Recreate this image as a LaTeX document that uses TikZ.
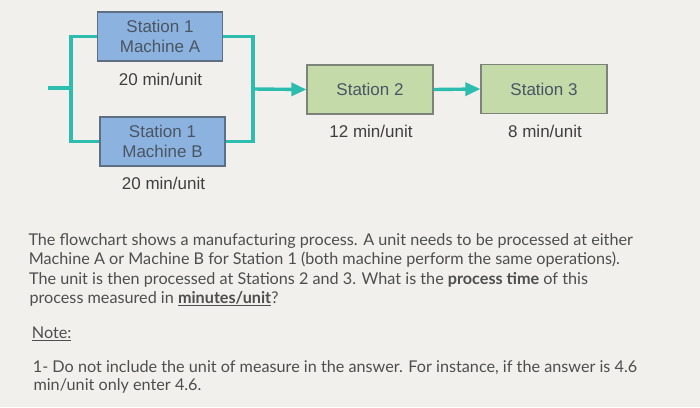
\documentclass[tikz,border=0pt]{standalone}
\usepackage{fontspec}
\setmainfont{Liberation Sans}
\newfontfamily\lato{Lato}
\usetikzlibrary{arrows.meta}
\definecolor{bgc}{HTML}{F2F0EC}
\definecolor{bluefill}{HTML}{8CB3DF}
\definecolor{blueedge}{HTML}{5E6F82}
\definecolor{greenfill}{HTML}{C5DAA9}
\definecolor{greenedge}{HTML}{7D827A}
\definecolor{teal}{HTML}{2DBDAE}
\definecolor{boxtext}{HTML}{4A5563}
\definecolor{labtext}{HTML}{3F3F3F}
\definecolor{paratext}{HTML}{4E4E4E}
\tikzset{
  machinebox/.style={draw=blueedge, fill=bluefill, line width=1.2pt, minimum width=125pt, minimum height=49pt, inner sep=0pt, align=center, text=boxtext, font=\fontsize{17}{19.5}\selectfont},
  stationbox/.style={draw=greenedge, fill=greenfill, line width=1.2pt, minimum width=126pt, minimum height=49pt, inner sep=0pt, align=center, text=boxtext, font=\fontsize{17}{19.5}\selectfont},
  ratelabel/.style={text=labtext, inner sep=0pt, font=\fontsize{17}{19.5}\selectfont},
  flowline/.style={draw=teal, line width=3.4pt},
  flowarrow/.style={flowline, -{Triangle[length=15pt,width=13pt]}},
  paraline/.style={anchor=base west, inner sep=0pt, text=paratext, font=\lato\fontsize{16.2}{19.2}\selectfont},
}
\begin{document}
\begin{tikzpicture}[x=1pt,y=-1pt]
\fill[bgc] (0,0) rectangle (700,407);
\useasboundingbox (0,0) rectangle (700,407);

% boxes
\node[machinebox] (A) at (160,36.5) {Station 1\\Machine A};
\node[machinebox] (B) at (162.5,141.5) {Station 1\\Machine B};
\node[stationbox] (S2) at (370,89.5) {Station 2};
\node[stationbox] (S3) at (544,89) {Station 3};

% rate labels
\node[ratelabel] (LA) at (160.5,79.3) {20 min/unit};
\node[ratelabel] (LB) at (163.5,183.3) {20 min/unit};
\node[ratelabel] (L2) at (371,131.5) {12 min/unit};
\node[ratelabel] (L3) at (545,131) {8 min/unit};

% connectors
\coordinate (in) at (48,88);
\coordinate (lj) at (71,88);
\coordinate (rj) at (253,89);
\draw[flowline] (in) -- (lj);
\draw[flowline] (A.west) -| (lj) |- (B.west);
\draw[flowline] (A.east) -| (rj) |- (B.east);
\draw[flowarrow] (rj) -- (S2.west);
\draw[flowarrow] (S2.east) -- (S3.west);

% paragraph
\node[paraline] (p1) at (28.3,245.7) {The flowchart shows a manufacturing process. A unit needs to be processed at either};
\node[paraline] (p2) at (28.6,264.8) {Machine A or Machine B for Station 1 (both machine perform the same operations).};
\node[paraline] (p3) at (28.9,284.3) {The unit is then processed at Stations 2 and 3. What is the \textbf{process time} of this};
\node[paraline] (p4) at (29.3,303.3) {process measured in \underline{\textbf{minutes/unit}}?};
\node[paraline] (n0) at (31.7,338.7) {\underline{Note:}};
\node[paraline] (n1) at (32.7,372.7) {1- Do not include the unit of measure in the answer. For instance, if the answer is 4.6};
\node[paraline] (n2) at (33.3,390.3) {min/unit only enter 4.6.};
\end{tikzpicture}
\end{document}
